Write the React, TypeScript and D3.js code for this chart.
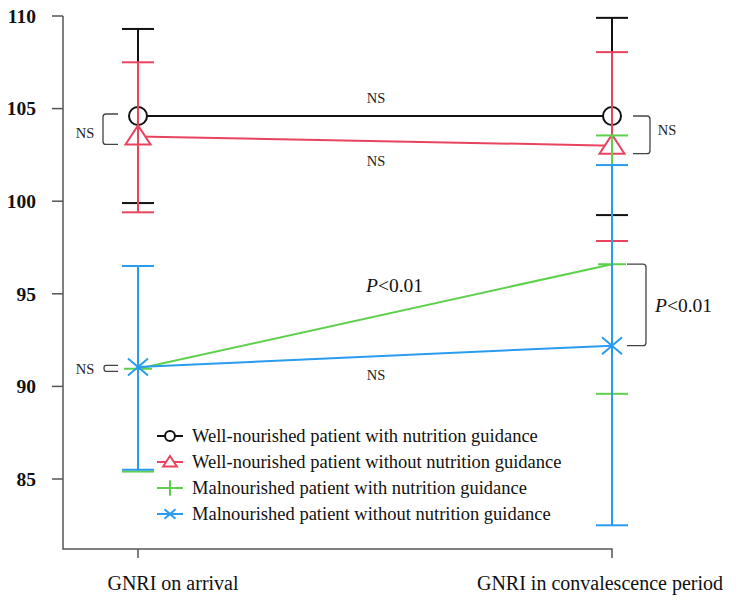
import React from "react";
import * as d3 from "d3";

const categories = ["GNRI on arrival", "GNRI in convalescence period"];
const yTicks = [85, 90, 95, 100, 105, 110];

const seriesNames = [
  "Well-nourished patient with nutrition guidance",
  "Well-nourished patient without nutrition guidance",
  "Malnourished patient with nutrition guidance",
  "Malnourished patient without nutrition guidance",
];
const seriesColors = ["#111111", "#e8445f", "#5fd04e", "#2a9cf0"];
const seriesMarkers = ["circle", "triangle", "plus", "cross"];
const means = [
  [104.6, 104.6],
  [103.5, 103.0],
  [90.95, 96.6],
  [91.05, 92.2],
];
const upper = [
  [109.3, 109.9],
  [107.5, 108.05],
  [96.5, 103.55],
  [96.5, 101.95],
];
const lower = [
  [99.9, 99.25],
  [99.4, 97.85],
  [85.4, 89.6],
  [85.5, 82.5],
];

const W = 739;
const H = 605;
const serif = "Liberation Serif";

function Marker({ type, x, y, color, s }: { type: string; x: number; y: number; color: string; s: number }) {
  if (type === "circle")
    return <circle cx={x} cy={y} r={9 * s} fill="white" stroke={color} strokeWidth={2} />;
  if (type === "triangle") {
    const hw = 12.5 * s, top = 11 * s, bot = 8 * s;
    return (
      <path
        d={`M${x},${y - top}L${x + hw},${y + bot}L${x - hw},${y + bot}Z`}
        fill="white"
        stroke={color}
        strokeWidth={2}
      />
    );
  }
  if (type === "plus") {
    const a = 14 * s;
    return (
      <path d={`M${x - a},${y}H${x + a}M${x},${y - a}V${y + a}`} stroke={color} strokeWidth={2} fill="none" />
    );
  }
  const hx = 10 * s, hy = 8.5 * s;
  return (
    <path
      d={`M${x - hx},${y - hy}L${x + hx},${y + hy}M${x - hx},${y + hy}L${x + hx},${y - hy}`}
      stroke={color}
      strokeWidth={2}
      fill="none"
    />
  );
}

export default function App() {
  const y = d3.scaleLinear().domain([85, 110]).range([479, 16]);
  const x = d3.scalePoint<string>().domain(categories).range([138, 612]);
  const axisX = 63;
  const axisBottom = 549;
  const cap = 16;
  const x0 = x(categories[0])!;
  const x1 = x(categories[1])!;
  const line = d3
    .line<number>()
    .x((_, i) => x(categories[i])!)
    .y((d) => y(d));

  const bracketLeft = (xl: number, xr: number, t: number, b: number) =>
    `M${xr},${t}H${xl + 3}Q${xl},${t} ${xl},${t + 3}V${b - 3}Q${xl},${b} ${xl + 3},${b}H${xr}`;
  const bracketRight = (xl: number, xr: number, t: number, b: number) =>
    `M${xl},${t}H${xr - 3}Q${xr},${t} ${xr},${t + 3}V${b - 3}Q${xr},${b} ${xr - 3},${b}H${xl}`;

  const nsProps = { fontFamily: serif, fontSize: 14.5, fill: "#222" };

  return (
    <svg
      width={W}
      height={H}
      style={{ position: "absolute", left: 0, top: 0, background: "white" }}
    >
      {/* axes */}
      <path d={`M${axisX},${y(110)}V${axisBottom}H${x1}V${axisBottom + 9}`} stroke="#555" strokeWidth={1.5} fill="none" />
      <line x1={x0} x2={x0} y1={axisBottom} y2={axisBottom + 9} stroke="#555" strokeWidth={1.5} />
      {yTicks.map((t) => (
        <g key={t}>
          <line x1={axisX - 11} x2={axisX} y1={y(t)} y2={y(t)} stroke="#555" strokeWidth={1.5} />
          <text
            x={36}
            y={y(t)}
            dy="0.35em"
            textAnchor="end"
            fontFamily={serif}
            fontSize={19.5}
            fontWeight="bold"
            fill="#111"
          >
            {t}
          </text>
        </g>
      ))}
      <text x={x0 + 35} y={590} textAnchor="middle" fontFamily={serif} fontSize={20} fill="#111">
        {categories[0]}
      </text>
      <text x={x1 - 12} y={590} textAnchor="middle" fontFamily={serif} fontSize={20} fill="#111">
        {categories[1]}
      </text>

      {/* series */}
      {seriesNames.map((name, si) => {
        const c = seriesColors[si];
        return (
          <g key={name}>
            <path d={line(means[si]) || ""} stroke={c} strokeWidth={2} fill="none" />
            {means[si].map((m, i) => {
              const cx = x(categories[i])!;
              return <Marker key={"m" + i} type={seriesMarkers[si]} x={cx} y={y(m)} color={c} s={1} />;
            })}
            {means[si].map((m, i) => {
              const cx = x(categories[i])!;
              return (
                <g key={"e" + i}>
                  <line x1={cx} x2={cx} y1={y(upper[si][i])} y2={y(lower[si][i])} stroke={c} strokeWidth={2} />
                  <line x1={cx - cap} x2={cx + cap} y1={y(upper[si][i])} y2={y(upper[si][i])} stroke={c} strokeWidth={2} />
                  <line x1={cx - cap} x2={cx + cap} y1={y(lower[si][i])} y2={y(lower[si][i])} stroke={c} strokeWidth={2} />
                </g>
              );
            })}
          </g>
        );
      })}

      {/* annotations */}
      <path d={bracketLeft(103, 118, y(means[0][0]) - 2, y(means[1][0]) + 8)} stroke="#444" strokeWidth={1.3} fill="none" />
      <text x={85} y={138} textAnchor="middle" {...nsProps}>NS</text>
      <path d={bracketRight(633, 650, y(means[0][1]), y(means[1][1]) + 8)} stroke="#444" strokeWidth={1.3} fill="none" />
      <text x={667} y={135} textAnchor="middle" {...nsProps}>NS</text>
      <path d={bracketRight(627, 646, y(means[2][1]), y(means[3][1]))} stroke="#444" strokeWidth={1.3} fill="none" />
      <path d={`M118,${y(means[3][0]) - 1.5}H106Q104,${y(means[3][0]) - 1.5} 104,${y(means[3][0]) + 1}Q104,${y(means[2][0]) + 2.5} 106,${y(means[2][0]) + 2.5}H118`} stroke="#444" strokeWidth={1.3} fill="none" />
      <text x={85} y={374} textAnchor="middle" {...nsProps}>NS</text>
      <text x={376} y={103} textAnchor="middle" {...nsProps}>NS</text>
      <text x={376} y={166} textAnchor="middle" {...nsProps}>NS</text>
      <text x={376} y={380} textAnchor="middle" {...nsProps}>NS</text>
      <text x={366} y={292} fontFamily={serif} fontSize={19.5} fill="#111">
        <tspan fontStyle="italic">P</tspan>&lt;0.01
      </text>
      <text x={655} y={312} fontFamily={serif} fontSize={19.5} fill="#111">
        <tspan fontStyle="italic">P</tspan>&lt;0.01
      </text>

      {/* legend */}
      {seriesNames.map((name, si) => {
        const ly = 436 + si * 26;
        const c = seriesColors[si];
        return (
          <g key={"l" + si}>
            <line x1={157} x2={183} y1={ly} y2={ly} stroke={c} strokeWidth={2} />
            <Marker type={seriesMarkers[si]} x={170} y={ly} color={c} s={0.55} />
            <text x={192} y={ly} dy="0.35em" fontFamily={serif} fontSize={18.5} fill="#111">
              {name}
            </text>
          </g>
        );
      })}
    </svg>
  );
}
